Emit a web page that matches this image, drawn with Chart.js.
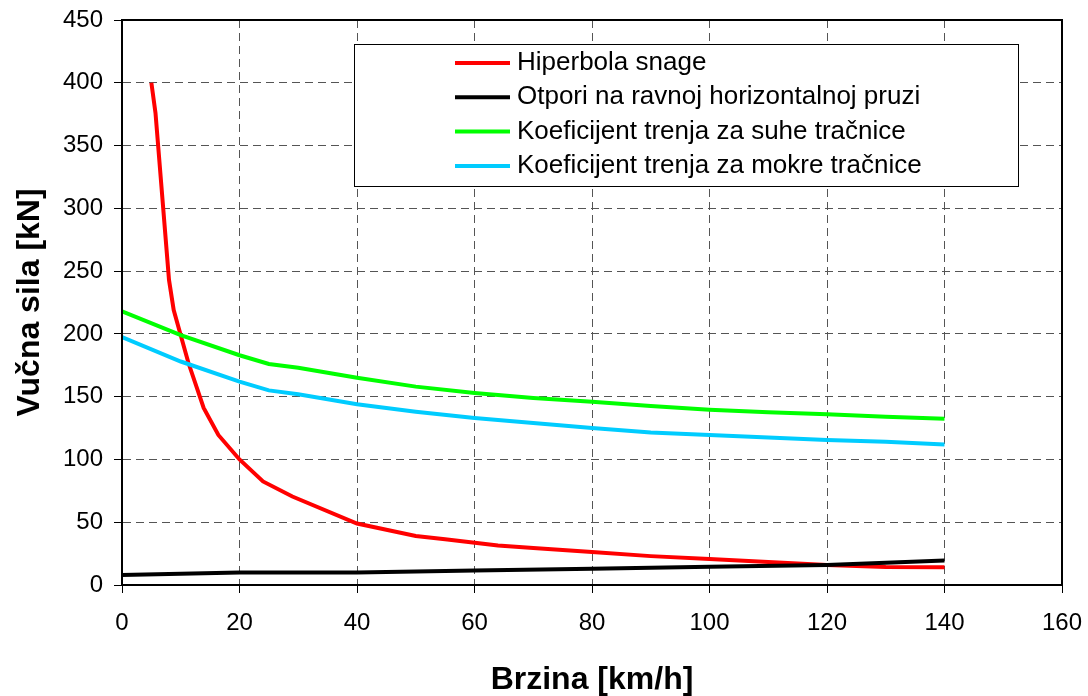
<!DOCTYPE html>
<html>
<head>
<meta charset="utf-8">
<script src="https://cdn.jsdelivr.net/npm/chart.js@4"></script>
<style>
html, body { margin: 0; padding: 0; background: #fff; }
#wrap { width: 1088px; height: 696px; }
</style>
</head>
<body>
<div id="wrap"><canvas id="tractionChart"></canvas></div>
<script>
// values
const seriesNames = [
    "Hiperbola snage",
    "Otpori na ravnoj horizontalnoj pruzi",
    "Koeficijent trenja za suhe tračnice",
    "Koeficijent trenja za mokre tračnice"
];
const seriesColors = ["#ff0000", "#000000", "#00ff00", "#00ccff"];

const powerSpeed = [5, 5.7, 8, 8.8, 11.3, 13.9, 16.4, 20, 24, 29, 40, 50, 55, 64, 70, 80, 90, 100, 110, 120, 130, 140];
const powerForce = [400, 376, 243, 219, 177, 141, 119.5, 100, 82.5, 70.5, 49, 39, 36.5, 31.5, 29.5, 26.3, 23, 20.7, 18.3, 16, 14.3, 14.1];

const resistSpeed = [0, 20, 40, 60, 80, 100, 120, 140];
const resistForce = [8, 10, 10, 11.5, 13, 14.5, 16, 19.5];

const frictionSpeed = [0, 10, 20, 25, 30, 40, 50, 60, 70, 80, 90, 100, 110, 120, 130, 140];
const dryForce = [218, 199, 183, 176, 173, 165, 158, 153, 149, 146, 142.5, 139.5, 137.5, 136, 134, 132.5];
const wetForce = [197.5, 178, 162, 155, 152, 144, 138, 133, 129, 125, 121.5, 119.5, 117.5, 115.5, 114, 112];

const xTicks = [0, 20, 40, 60, 80, 100, 120, 140, 160];
const yTicks = [0, 50, 100, 150, 200, 250, 300, 350, 400, 450];

const FONT = "'Liberation Sans', Arial, sans-serif";

function points(xs, ys) {
    return xs.map((x, i) => ({ x: x, y: ys[i] }));
}

// drop the label overflow padding so layout.padding decides the plot box
function noOverflow(s) {
    s.paddingTop = 0;
    s.paddingBottom = 0;
    s.paddingLeft = 0;
    s.paddingRight = 0;
}

const frame = {
    id: "frame",
    afterDraw(chart) {
        const a = chart.chartArea;
        const ctx = chart.ctx;
        ctx.save();
        ctx.strokeStyle = "#000";
        ctx.lineWidth = 2;
        ctx.strokeRect(a.left, a.top, a.right - a.left, a.bottom - a.top);

        // legend box
        const bx = 354, by = 44, bw = 664, bh = 142;
        ctx.fillStyle = "#fff";
        ctx.fillRect(bx, by, bw, bh);
        ctx.lineWidth = 1;
        ctx.strokeRect(bx + 0.5, by + 0.5, bw, bh);
        ctx.font = "26px " + FONT;
        ctx.textBaseline = "middle";
        seriesNames.forEach((name, i) => {
            const y = 63 + i * 34.3;
            ctx.strokeStyle = seriesColors[i];
            ctx.lineWidth = 4;
            ctx.beginPath();
            ctx.moveTo(455, y);
            ctx.lineTo(510, y);
            ctx.stroke();
            ctx.fillStyle = "#000";
            ctx.fillText(name, 517, y);
        });
        ctx.restore();
    }
};

document.addEventListener("DOMContentLoaded", function () {
    let ctx = document.getElementById("tractionChart").getContext("2d");

    const sets = [
        points(powerSpeed, powerForce),
        points(resistSpeed, resistForce),
        points(frictionSpeed, dryForce),
        points(frictionSpeed, wetForce)
    ];
    const order = [1, 2, 3, 0];

    const grid = {
        color: "#555",
        lineWidth: 1,
        tickLength: 8,
        tickColor: "#000",
        tickBorderDash: [],
        tickWidth: 1
    };
    const border = { display: true, color: "#000", width: 2, dash: [8, 5] };

    new Chart(ctx, {
        type: "line",
        data: {
            datasets: order.map(i => ({
                label: seriesNames[i],
                data: sets[i],
                borderColor: seriesColors[i],
                backgroundColor: seriesColors[i],
                borderWidth: 4,
                pointRadius: 0,
                tension: 0,
                fill: false
            }))
        },
        options: {
            responsive: true,
            maintainAspectRatio: false,
            animation: false,
            layout: { padding: { top: 20, right: 26, left: 0, bottom: 0 } },
            plugins: {
                legend: { display: false },
                tooltip: { enabled: false }
            },
            scales: {
                x: {
                    type: "linear",
                    min: 0,
                    max: 160,
                    afterBuildTicks: s => { s.ticks = xTicks.map(v => ({ value: v })); },
                    afterFit: s => { s.height = 111; noOverflow(s); },
                    grid: grid,
                    border: border,
                    ticks: {
                        color: "#000",
                        padding: 16,
                        maxRotation: 0,
                        font: { family: FONT, size: 24 }
                    },
                    title: {
                        display: true,
                        text: "Brzina [km/h]",
                        color: "#000",
                        padding: { top: 0, bottom: -3 },
                        font: { family: FONT, size: 32, weight: "bold" }
                    }
                },
                y: {
                    min: 0,
                    max: 450,
                    afterBuildTicks: s => { s.ticks = yTicks.map(v => ({ value: v })); },
                    afterFit: s => { s.width = 122; noOverflow(s); },
                    grid: grid,
                    border: border,
                    ticks: {
                        color: "#000",
                        padding: 11,
                        font: { family: FONT, size: 24 }
                    },
                    title: {
                        display: true,
                        text: "Vučna sila [kN]",
                        color: "#000",
                        padding: { top: 11, bottom: 0 },
                        font: { family: FONT, size: 32, weight: "bold" }
                    }
                }
            }
        },
        plugins: [frame]
    });
});
</script>
</body>
</html>
